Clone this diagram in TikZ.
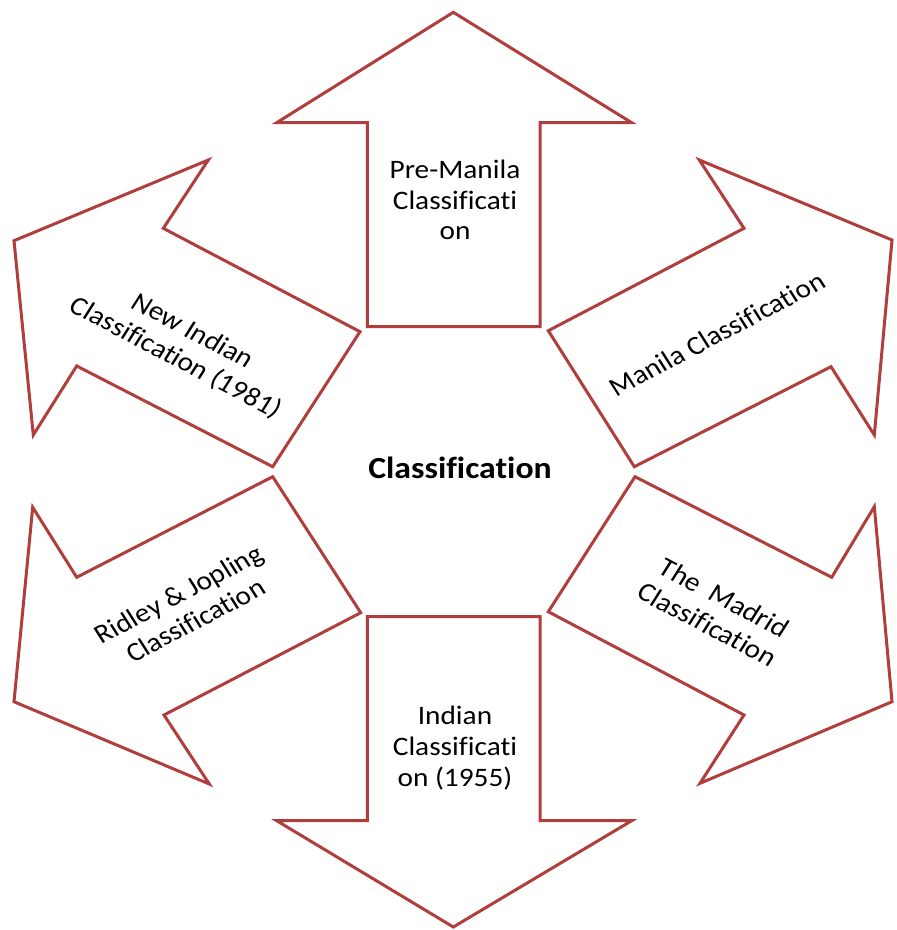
\documentclass[tikz,border=0pt]{standalone}
\usepackage{fontspec}
\setmainfont[Ligatures={NoCommon}]{Carlito}
\definecolor{arrowred}{RGB}{176,62,60}
\begin{document}
\begin{tikzpicture}[x=0.75pt,y=-0.75pt,
  arrowshape/.style={draw=arrowred, line width=2.25pt, fill=white, line join=miter},
  lbl/.style={font=\fontsize{20}{23}\selectfont, align=center, text=black, inner sep=0pt, xscale=1.1}]
\useasboundingbox[fill=white] (0,0) rectangle (896,930);
% top arrow
\draw[arrowshape] (367.3,326.7) -- (367.3,122.7) -- (276.7,122.7) -- (453.3,12.3) -- (631.7,122.7) -- (540,122.7) -- (540,326.7) -- cycle;
% bottom arrow
\draw[arrowshape] (367.3,616.7) -- (367.3,820.7) -- (276.7,820.7) -- (453.3,927) -- (631.7,820.7) -- (540,820.7) -- (540,616.7) -- cycle;
% upper right arrow
\draw[arrowshape] (548.3,330.7) -- (744,228.3) -- (699.3,160) -- (892,240) -- (874.3,435) -- (831,366.7) -- (634.3,466.7) -- cycle;
% upper left arrow
\draw[arrowshape] (360,331.7) -- (163.3,228.3) -- (208.3,160) -- (14,240.7) -- (33.3,435) -- (76.7,366) -- (272.7,466.7) -- cycle;
% lower right arrow
\draw[arrowshape] (635,476.7) -- (831.7,577.3) -- (874.3,506.7) -- (892,701.7) -- (700,783.3) -- (744,715) -- (548.3,611.7) -- cycle;
% lower left arrow
\draw[arrowshape] (272.7,476.7) -- (76.7,577.3) -- (32.7,507.3) -- (14,701.7) -- (209.3,784) -- (164,715) -- (360.7,612.7) -- cycle;
% texts
\node[lbl] (pre) at (455,200) {Pre-Manila\\Classificati\\on};
\node[lbl] (ind) at (455,748) {Indian\\Classificati\\on (1955)};
\node[lbl, font=\bfseries\fontsize{23}{27}\selectfont] (cls) at (460,468) {Classification};
\node[lbl, rotate=30] (man) at (717,334) {Manila Classification};
\node[lbl, rotate=-30] (newind) at (184,345) {New Indian\\Classification (1981)};
\node[lbl, rotate=-30] (mad) at (716,611) {The\ \ Madrid\\Classification};
\node[lbl, rotate=30] (rid) at (187,607) {Ridley \& Jopling\\Classification};
\end{tikzpicture}
\end{document}
